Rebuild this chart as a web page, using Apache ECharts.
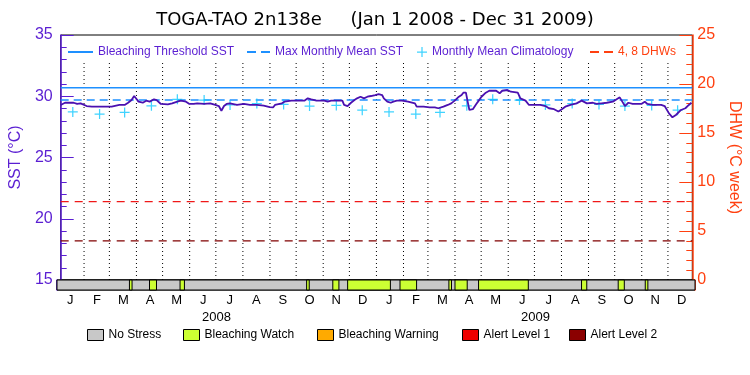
<!DOCTYPE html>
<html>
<head>
<meta charset="utf-8">
<script src="https://cdn.jsdelivr.net/npm/echarts@6/dist/echarts.min.js"></script>
<style>
html, body { margin: 0; padding: 0; background: #fff; }
#chart { width: 750px; height: 375px; }
</style>
</head>
<body>
<div id="chart"></div>
<script>
// daily SST at the buoy at its break points
var sstDates = [
  '2008-01-01','2008-01-02','2008-01-06','2008-01-16','2008-01-20','2008-01-24','2008-01-31','2008-02-06','2008-02-29',
  '2008-03-09','2008-03-15','2008-03-19','2008-03-23','2008-03-26','2008-03-29','2008-03-31','2008-04-05','2008-04-09',
  '2008-04-13','2008-04-18','2008-04-21','2008-04-26','2008-05-04','2008-05-09','2008-05-15','2008-05-19','2008-05-25',
  '2008-05-29','2008-06-03','2008-06-07','2008-06-15','2008-06-22','2008-06-28','2008-07-02','2008-07-05','2008-07-08',
  '2008-07-11','2008-07-15','2008-07-23','2008-07-31','2008-08-07','2008-08-15','2008-08-23','2008-08-30','2008-09-03',
  '2008-09-05','2008-09-13','2008-09-16','2008-09-24','2008-10-09','2008-10-13','2008-10-17','2008-10-23','2008-11-01',
  '2008-11-05','2008-11-09','2008-11-22','2008-11-24','2008-11-28','2008-12-02','2008-12-06','2008-12-09','2008-12-13',
  '2008-12-17','2008-12-21','2008-12-25','2008-12-30','2009-01-03','2009-01-07','2009-01-09','2009-01-13','2009-01-17',
  '2009-01-20','2009-01-24','2009-01-30','2009-02-06','2009-02-14','2009-02-16','2009-02-24','2009-03-03','2009-03-09',
  '2009-03-13','2009-03-19','2009-03-24','2009-03-28','2009-04-01','2009-04-05','2009-04-09','2009-04-11','2009-04-14',
  '2009-04-16','2009-04-18','2009-04-22','2009-04-26','2009-04-28','2009-05-02','2009-05-07','2009-05-11','2009-05-19',
  '2009-05-23','2009-05-26','2009-06-01','2009-06-05','2009-06-13','2009-06-16','2009-06-22','2009-06-26','2009-07-09',
  '2009-07-15','2009-07-19','2009-07-25','2009-07-30','2009-08-03','2009-08-07','2009-08-13','2009-08-20','2009-08-26',
  '2009-09-01','2009-09-08','2009-09-12','2009-09-18','2009-09-24','2009-10-01','2009-10-09','2009-10-12','2009-10-15',
  '2009-10-19','2009-10-24','2009-11-03','2009-11-07','2009-11-10','2009-11-16','2009-11-26','2009-11-30','2009-12-05',
  '2009-12-09','2009-12-13','2009-12-19','2009-12-24','2009-12-28','2009-12-31'
];
var sstTemps = [
  29.29, 29.42, 29.47, 29.47, 29.37, 29.42, 29.20, 29.15, 29.15,
  29.29, 29.29, 29.47, 29.69, 30.02, 29.75, 29.56, 29.47, 29.64,
  29.56, 29.75, 29.69, 29.37, 29.34, 29.42, 29.56, 29.64, 29.56,
  29.37, 29.37, 29.42, 29.37, 29.42, 29.29, 29.20, 28.82, 29.20,
  29.37, 29.42, 29.29, 29.37, 29.29, 29.29, 29.24, 29.12, 29.10,
  29.29, 29.42, 29.56, 29.64, 29.64, 29.83, 29.75, 29.64, 29.64,
  29.56, 29.64, 29.64, 29.29, 29.20, 29.47, 29.69, 29.83, 29.96,
  29.83, 29.96, 30.02, 30.10, 30.18, 30.10, 29.83, 29.56, 29.47,
  29.56, 29.64, 29.64, 29.56, 29.42, 29.15, 29.15, 29.10, 29.10,
  29.02, 29.15, 29.29, 29.42, 29.64, 29.91, 30.10, 30.29, 30.29,
  29.56, 28.88, 28.94, 29.37, 29.56, 29.96, 30.29, 30.45, 30.45,
  30.24, 30.45, 30.51, 30.37, 30.29, 29.83, 29.64, 29.29, 29.29,
  29.20, 29.02, 28.94, 28.75, 28.94, 29.15, 29.29, 29.42, 29.64,
  29.42, 29.47, 29.37, 29.42, 29.47, 29.56, 29.91, 29.56, 29.20,
  29.47, 29.37, 29.37, 29.56, 29.37, 29.29, 29.29, 29.20, 28.60,
  28.28, 28.47, 28.88, 29.02, 29.29, 29.47
];
// monthly mean climatology (Jan..Dec), same for both years
var climatology = [28.72, 28.55, 28.68, 29.22, 29.75, 29.69, 29.29, 29.40, 29.33, 29.20, 29.25, 28.86];
var climYears = [2008, 2009];
var maxMonthlyMean = 29.7;
var bleachingThreshold = 30.7;
var dhwLevels = [4, 8];
var monthLabels = ['J', 'F', 'M', 'A', 'M', 'J', 'J', 'A', 'S', 'O', 'N', 'D'];
var yearLabels = ['2008', '2009'];
// bleaching watch periods in the stress strip
var watchStart = ['2008-03-24','2008-04-16','2008-05-21','2008-10-13','2008-11-12','2008-11-29','2009-01-28',
  '2009-03-25','2009-04-01','2009-04-28','2009-08-24','2009-10-05','2009-11-05'];
var watchEnd = ['2008-03-27','2008-04-24','2008-05-26','2008-10-16','2008-11-19','2009-01-17','2009-02-16',
  '2009-03-28','2009-04-15','2009-06-24','2009-08-30','2009-10-12','2009-11-08'];
var stressNames = ['No Stress', 'Bleaching Watch', 'Bleaching Warning', 'Alert Level 1', 'Alert Level 2'];
var stressColors = ['#c8c8c8', '#ccff33', '#ffaa00', '#ee0000', '#8b0000'];

var startDay = '2008-01-01', endDay = '2010-01-01';
var purple = '#5a1ed2', orange = '#ff4010', blue = '#1e90ff', cyan = '#10c8ff';
var font = 'Liberation Sans';

function t(s) {
  var p = s.split('-');
  return new Date(+p[0], +p[1] - 1, +p[2]).getTime();
}

var sstData = sstDates.map(function (d, i) { return [t(d), sstTemps[i]]; });
var climData = [];
climYears.forEach(function (y) {
  climatology.forEach(function (v, m) {
    climData.push([new Date(y, m, 15).getTime(), v]);
  });
});
var monthStarts = [];
for (var k = 1; k < 24; k++) {
  monthStarts.push([new Date(2008, k, 1).getTime(), 0]);
}
var bandData = [
  [[t(startDay), t(endDay), 0]],
  watchStart.map(function (s, i) { return [t(s), t(watchEnd[i]), 0]; }),
  [], [], []
];

function renderBand(params, api) {
  var a = api.coord([api.value(0), 1]);
  var b = api.coord([api.value(1), 0]);
  return {
    type: 'rect',
    shape: { x: a[0], y: a[1], width: b[0] - a[0], height: b[1] - a[1] },
    style: { fill: api.visual('color'), stroke: '#000', lineWidth: 1 }
  };
}
function renderDots(params, api) {
  var a = api.coord([api.value(0), 1]);
  var b = api.coord([api.value(0), 0]);
  return {
    type: 'line',
    shape: { x1: a[0], y1: a[1], x2: b[0], y2: b[1] },
    style: { stroke: '#000', lineWidth: 1, lineDash: [1, 3] }
  };
}

var plusPath = 'path://M3.5,0h1v3.5h3.5v1h-3.5v3.5h-1v-3.5h-3.5v-1h3.5z';
var solidIcon = 'path://M0,0H25V2H0Z';
var dashIcon = 'path://M0,0H9V2H0ZM14,0H23V2H14Z';
var flat = function (v) { return [[t(startDay), v], [t(endDay), v]]; };

var series = [
  { name: 'dots', type: 'custom', xAxisIndex: 2, yAxisIndex: 2, renderItem: renderDots,
    data: monthStarts, encode: { x: 0, y: 1 }, silent: true, z: 1 },
  { name: 'Bleaching Threshold SST', type: 'line', xAxisIndex: 0, yAxisIndex: 0, data: flat(bleachingThreshold),
    symbol: 'none', lineStyle: { color: blue, width: 1.5 }, itemStyle: { color: blue }, z: 2 },
  { name: 'Max Monthly Mean SST', type: 'line', xAxisIndex: 0, yAxisIndex: 0, data: flat(maxMonthlyMean),
    symbol: 'none', lineStyle: { color: blue, width: 1.5, type: [8, 5] }, itemStyle: { color: blue }, z: 2 },
  { name: '4 DHW', type: 'line', xAxisIndex: 0, yAxisIndex: 1, data: flat(dhwLevels[0]),
    symbol: 'none', lineStyle: { color: '#800000', width: 1.2, type: [8, 6] }, z: 2 },
  { name: '4, 8 DHWs', type: 'line', xAxisIndex: 0, yAxisIndex: 1, data: flat(dhwLevels[1]),
    symbol: 'none', lineStyle: { color: '#f01818', width: 1.2, type: [8, 6] }, itemStyle: { color: orange }, z: 2 },
  { name: 'Monthly Mean Climatology', type: 'scatter', xAxisIndex: 0, yAxisIndex: 0, data: climData,
    symbol: plusPath, symbolSize: 10, itemStyle: { color: cyan }, z: 3 },
  { name: 'SST', type: 'line', xAxisIndex: 0, yAxisIndex: 0, data: sstData, symbol: 'none',
    lineStyle: { color: '#4a10b0', width: 1.8 }, z: 4 }
];
stressNames.forEach(function (n, i) {
  series.push({ name: n, type: 'custom', xAxisIndex: 1, yAxisIndex: 3, renderItem: renderBand,
    data: bandData[i], encode: { x: [0, 1], y: 2 }, itemStyle: { color: stressColors[i] }, z: 2 + i });
});

var topLegends = [
  { name: 'Bleaching Threshold SST', left: 68, w: 25, h: 2, color: purple, icon: solidIcon },
  { name: 'Max Monthly Mean SST', left: 247, w: 23, h: 2, color: purple, icon: dashIcon },
  { name: 'Monthly Mean Climatology', left: 417, w: 10, h: 10, color: purple, icon: plusPath },
  { name: '4, 8 DHWs', left: 590, w: 23, h: 2, color: orange, icon: dashIcon }
];
var bottomLefts = [87, 183, 317, 462, 569];
var legends = topLegends.map(function (l) {
  return { data: [l.name], left: l.left, top: 46, padding: 0, itemWidth: l.w, itemHeight: l.h, icon: l.icon,
    selectedMode: false, textStyle: { color: l.color, fontSize: 12, fontFamily: font } };
});
stressNames.forEach(function (n, i) {
  legends.push({ data: [n], left: bottomLefts[i], top: 329, padding: 0, itemWidth: 16, itemHeight: 11, icon: 'rect',
    selectedMode: false, itemStyle: { borderColor: '#000', borderWidth: 1 },
    textStyle: { color: '#000', fontSize: 12, fontFamily: font } });
});

var hidden = { show: false };
var chart = echarts.init(document.getElementById('chart'), null, { renderer: 'canvas' });
chart.setOption({
  animation: false,
  backgroundColor: '#fff',
  title: {
    text: 'TOGA-TAO 2n138e     (Jan 1 2008 - Dec 31 2009)',
    left: 'center', top: 11, padding: 0,
    textStyle: { color: '#000', fontSize: 18, fontWeight: 'normal', fontFamily: 'DejaVu Sans' }
  },
  legend: legends,
  grid: [
    { left: 57, right: 55, top: 35, height: 245, show: true, borderColor: '#000', borderWidth: 1 },
    { left: 57, right: 55, top: 280, height: 10, show: true, borderColor: '#000', borderWidth: 1 },
    { left: 57, right: 55, top: 63, height: 217 }
  ],
  xAxis: [
    { gridIndex: 0, type: 'time', min: t(startDay), max: t(endDay), show: false },
    { gridIndex: 1, type: 'time', min: t(startDay), max: t(endDay), show: false },
    { gridIndex: 2, type: 'time', min: t(startDay), max: t(endDay), show: false },
    { gridIndex: 1, type: 'category', data: monthLabels.concat(monthLabels), position: 'bottom', boundaryGap: true,
      axisLine: hidden, axisTick: hidden,
      axisLabel: { color: '#000', fontSize: 13, fontFamily: font, margin: 4 } },
    { gridIndex: 1, type: 'category', data: yearLabels, position: 'bottom', offset: 17, boundaryGap: true,
      axisLine: hidden, axisTick: hidden,
      axisLabel: { color: '#000', fontSize: 13, fontFamily: font, margin: 4 } }
  ],
  yAxis: [
    { gridIndex: 0, type: 'value', position: 'left', min: 15, max: 35, interval: 5,
      name: 'SST (°C)', nameLocation: 'middle', nameGap: 29, nameRotate: 90,
      nameTextStyle: { color: purple, fontSize: 16, fontFamily: font },
      axisLine: { show: true, lineStyle: { color: purple, width: 1.5 } },
      axisTick: { show: true, inside: true, length: 13, lineStyle: { color: purple } },
      minorTick: { show: true, splitNumber: 5, length: 6, lineStyle: { color: purple } },
      axisLabel: { color: purple, fontSize: 16, fontFamily: font, margin: 8 },
      splitLine: hidden },
    { gridIndex: 0, type: 'value', position: 'right', min: 0, max: 25, interval: 5,
      name: 'DHW (°C week)', nameLocation: 'middle', nameGap: 29, nameRotate: -90,
      nameTextStyle: { color: orange, fontSize: 16, fontFamily: font },
      axisLine: { show: true, lineStyle: { color: orange, width: 1.5 } },
      axisTick: { show: true, inside: true, length: 13, lineStyle: { color: orange } },
      minorTick: { show: true, splitNumber: 5, length: 6, lineStyle: { color: orange } },
      axisLabel: { color: orange, fontSize: 16, fontFamily: font, margin: 5 },
      splitLine: hidden },
    { gridIndex: 2, type: 'value', min: 0, max: 1, show: false },
    { gridIndex: 1, type: 'value', position: 'left', min: 0, max: 1,
      axisLine: { show: true, lineStyle: { color: purple, width: 1.5 } },
      axisTick: hidden, axisLabel: hidden, splitLine: hidden },
    { gridIndex: 1, type: 'value', position: 'right', min: 0, max: 1,
      axisLine: { show: true, lineStyle: { color: orange, width: 1.5 } },
      axisTick: hidden, axisLabel: hidden, splitLine: hidden }
  ],
  series: series
});
</script>
</body>
</html>
